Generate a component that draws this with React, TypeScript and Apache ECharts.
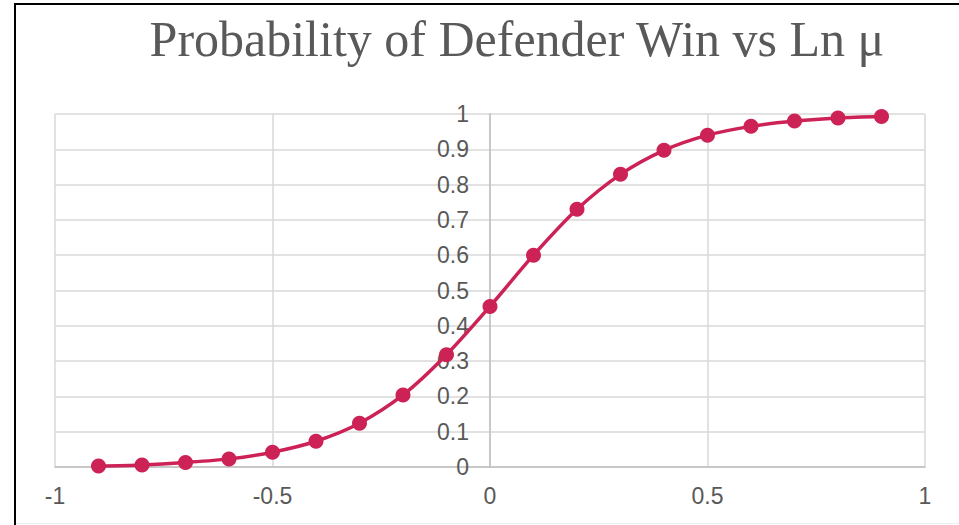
import React, { useEffect, useRef } from "react";
import * as echarts from "echarts";

const lnMu = [-0.9, -0.8, -0.7, -0.6, -0.5, -0.4, -0.3, -0.2, -0.1, 0, 0.1, 0.2, 0.3, 0.4, 0.5, 0.6, 0.7, 0.8, 0.9];
const pWin = [0.003, 0.006, 0.013, 0.023, 0.042, 0.073, 0.124, 0.204, 0.318, 0.455, 0.6, 0.73, 0.829, 0.897, 0.94, 0.965, 0.98, 0.989, 0.993];
const titleText = "Probability of Defender Win vs Ln μ";

export default function App() {
  const ref = useRef<HTMLDivElement>(null);
  useEffect(() => {
    if (!ref.current) return;
    const chart = echarts.init(ref.current, null, { renderer: "svg" });
    const data = lnMu.map((x, i) => [x, pWin[i]]);
    chart.setOption({
      animation: false,
      backgroundColor: "#ffffff",
      title: {
        text: titleText,
        left: 512,
        top: 9,
        textAlign: "center",
        textStyle: { fontFamily: "Liberation Serif", fontSize: 50, fontWeight: "normal", color: "#595959" },
      },
      graphic: [
        { type: "rect", shape: { x: 14, y: 3, width: 2, height: 522 }, style: { fill: "#000" } },
        { type: "rect", shape: { x: 14, y: 3, width: 945, height: 2 }, style: { fill: "#000" } },
        { type: "rect", shape: { x: 16, y: 523, width: 943, height: 1 }, style: { fill: "#eeeeee" } },
      ],
      grid: { left: 55, right: 34, top: 114, bottom: 58 },
      xAxis: {
        type: "value",
        min: -1,
        max: 1,
        interval: 0.5,
        axisLine: { show: true, onZero: true, lineStyle: { color: "#bfbfbf", width: 1.5 } },
        axisTick: { show: false },
        axisLabel: { fontFamily: "Liberation Sans", fontSize: 23, color: "#595959", margin: 17 },
        splitLine: { show: true, lineStyle: { color: "#d9d9d9", width: 1.5 } },
      },
      yAxis: {
        type: "value",
        min: 0,
        max: 1,
        interval: 0.1,
        position: "left",
        offset: -435,
        axisLine: { show: true, onZero: false, lineStyle: { color: "#bfbfbf", width: 1.5 } },
        axisTick: { show: false },
        axisLabel: { fontFamily: "Liberation Sans", fontSize: 23, color: "#595959", margin: 21 },
        splitLine: { show: true, lineStyle: { color: "#d9d9d9", width: 1.5 } },
      },
      series: [
        {
          type: "line",
          data,
          smooth: 0.3,
          symbol: "circle",
          symbolSize: 15,
          itemStyle: { color: "#cc2256" },
          lineStyle: { color: "#cc2256", width: 3.5 },
          z: 5,
        },
      ],
    });
    return () => chart.dispose();
  }, []);
  return <div ref={ref} style={{ position: "fixed", left: 0, top: 0, width: 959, height: 525 }} />;
}
